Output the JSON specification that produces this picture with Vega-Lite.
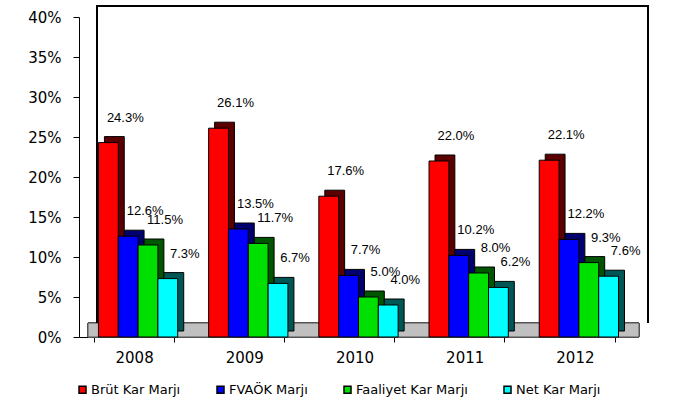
{
  "$schema": "https://vega.github.io/schema/vega-lite/v6.json",
  "width": 551,
  "height": 320,
  "autosize": {"type": "none"},
  "padding": {"left": 79, "top": 17, "right": 65, "bottom": 76},
  "background": "white",
  "config": {"view": {"stroke": null}},
  "data": {
    "values": [
      {"year": "2008", "s": "Brüt Kar Marjı", "v": 0.243},
      {"year": "2008", "s": "FVAÖK Marjı", "v": 0.126},
      {"year": "2008", "s": "Faaliyet Kar Marjı", "v": 0.115},
      {"year": "2008", "s": "Net Kar Marjı", "v": 0.073},
      {"year": "2009", "s": "Brüt Kar Marjı", "v": 0.261},
      {"year": "2009", "s": "FVAÖK Marjı", "v": 0.135},
      {"year": "2009", "s": "Faaliyet Kar Marjı", "v": 0.117},
      {"year": "2009", "s": "Net Kar Marjı", "v": 0.067},
      {"year": "2010", "s": "Brüt Kar Marjı", "v": 0.176},
      {"year": "2010", "s": "FVAÖK Marjı", "v": 0.077},
      {"year": "2010", "s": "Faaliyet Kar Marjı", "v": 0.050},
      {"year": "2010", "s": "Net Kar Marjı", "v": 0.040},
      {"year": "2011", "s": "Brüt Kar Marjı", "v": 0.220},
      {"year": "2011", "s": "FVAÖK Marjı", "v": 0.102},
      {"year": "2011", "s": "Faaliyet Kar Marjı", "v": 0.080},
      {"year": "2011", "s": "Net Kar Marjı", "v": 0.062},
      {"year": "2012", "s": "Brüt Kar Marjı", "v": 0.221},
      {"year": "2012", "s": "FVAÖK Marjı", "v": 0.122},
      {"year": "2012", "s": "Faaliyet Kar Marjı", "v": 0.093},
      {"year": "2012", "s": "Net Kar Marjı", "v": 0.076}
    ]
  },
  "encoding": {
    "x": {
      "field": "year", "type": "nominal",
      "scale": {"paddingInner": 0.28, "paddingOuter": 0.14},
      "axis": {
        "title": null, "labelAngle": 0, "labelFont": "DejaVu Sans", "labelFontSize": 15,
        "labelColor": "black", "domainColor": "black", "tickColor": "black",
        "tickBand": "extent", "tickSize": 5, "labelPadding": 8
      }
    },
    "y": {
      "field": "v", "type": "quantitative",
      "scale": {"domain": [0, 0.4], "nice": false},
      "axis": {
        "title": null, "format": ".0%", "values": [0, 0.05, 0.1, 0.15, 0.2, 0.25, 0.3, 0.35, 0.4],
        "grid": false, "labelFont": "DejaVu Sans", "labelFontSize": 15, "labelColor": "black",
        "domainColor": "black", "tickColor": "black", "tickSize": 6, "labelPadding": 12
      }
    }
  },
  "layer": [
    {
      "mark": {"type": "rect", "fill": "#c0c0c0", "stroke": "#555555", "strokeWidth": 1, "xOffset": 9, "x2Offset": 9},
      "encoding": {
        "x": {"value": 0},
        "x2": {"value": {"expr": "width"}},
        "y": {"datum": 0, "type": "quantitative"},
        "y2": {"datum": 0.0175}
      }
    },
    {
      "mark": {"type": "rect", "fill": "black", "xOffset": 18, "x2Offset": 19, "yOffset": -12, "y2Offset": -10.5},
      "encoding": {
        "x": {"value": 0},
        "x2": {"value": {"expr": "width"}},
        "y": {"datum": 0.4, "type": "quantitative"},
        "y2": {"datum": 0.4}
      }
    },
    {
      "mark": {"type": "rule", "color": "black", "strokeWidth": 1.5, "xOffset": 18, "x2Offset": 18, "yOffset": -12, "y2Offset": -12},
      "encoding": {
        "x": {"value": {"expr": "width"}},
        "y": {"datum": 0.4, "type": "quantitative"},
        "y2": {"datum": 0.0025}
      }
    },
    {
      "mark": {"type": "rule", "color": "black", "strokeWidth": 1, "xOffset": 18, "x2Offset": 18, "yOffset": -12, "y2Offset": -12},
      "encoding": {
        "x": {"value": 0},
        "y": {"datum": 0.4, "type": "quantitative"},
        "y2": {"datum": 0.0025}
      }
    },
    {
      "mark": {"type": "bar", "stroke": "black", "strokeWidth": 1, "yOffset": -6},
      "encoding": {
        "xOffset": {
          "field": "s", "type": "nominal",
          "scale": {"domain": ["Brüt Kar Marjı", "FVAÖK Marjı", "Faaliyet Kar Marjı", "Net Kar Marjı"], "range": [10, 89.3], "paddingInner": 0, "paddingOuter": 0}
        },
        "color": {
          "field": "s", "type": "nominal",
          "scale": {"domain": ["Brüt Kar Marjı", "FVAÖK Marjı", "Faaliyet Kar Marjı", "Net Kar Marjı"], "range": ["#5a0000", "#00006e", "#005500", "#005555"]},
          "legend": null
        }
      }
    },
    {
      "mark": {"type": "bar", "stroke": "black", "strokeWidth": 1},
      "encoding": {
        "xOffset": {
          "field": "s", "type": "nominal",
          "scale": {"domain": ["Brüt Kar Marjı", "FVAÖK Marjı", "Faaliyet Kar Marjı", "Net Kar Marjı"], "range": [4, 83.3], "paddingInner": 0, "paddingOuter": 0}
        },
        "fill": {
          "field": "s", "type": "nominal",
          "scale": {"domain": ["Brüt Kar Marjı", "FVAÖK Marjı", "Faaliyet Kar Marjı", "Net Kar Marjı"], "range": ["#ff0000", "#0000ff", "#00e000", "#00ffff"]},
          "legend": {
            "title": null, "orient": "none", "legendX": -3, "legendY": 366, "direction": "horizontal",
            "symbolType": "square", "symbolSize": 49, "symbolStrokeColor": "black", "symbolStrokeWidth": 1.5,
            "labelFont": "DejaVu Sans", "labelFontSize": 13, "labelColor": "black", "columnPadding": 33, "labelOffset": 2
          }
        }
      }
    },
    {
      "mark": {"type": "text", "font": "Liberation Sans", "fontSize": 13, "color": "black", "dx": 17, "dy": -25, "baseline": "middle"},
      "encoding": {
        "xOffset": {
          "field": "s", "type": "nominal",
          "scale": {"domain": ["Brüt Kar Marjı", "FVAÖK Marjı", "Faaliyet Kar Marjı", "Net Kar Marjı"], "range": [13.9, 73.4], "padding": 0}
        },
        "text": {"field": "v", "type": "quantitative", "format": ".1%"}
      }
    }
  ],
  "resolve": {"scale": {"color": "independent", "fill": "independent", "xOffset": "independent"}}
}
